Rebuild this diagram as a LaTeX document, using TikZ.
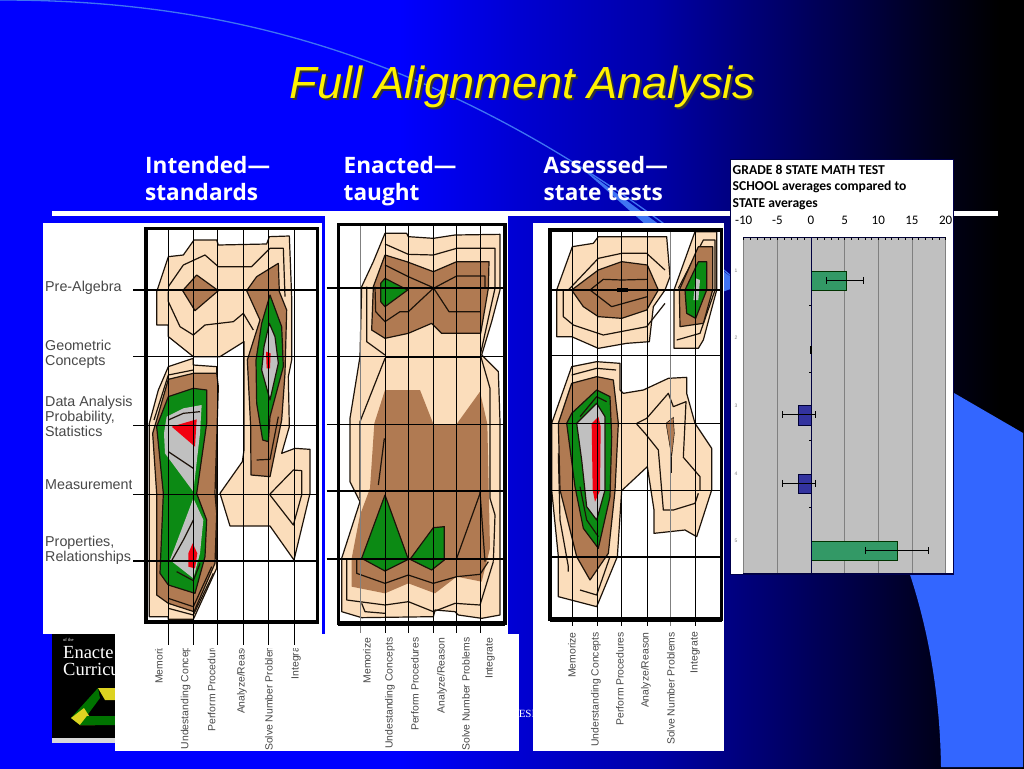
\documentclass[tikz,border=0pt]{standalone}
\usepackage{fontspec}
\setmainfont{Liberation Sans}
\newfontfamily\headfont{Open Sans}
\newfontfamily\chartfont{Carlito}
\newfontfamily\bookfont{Liberation Serif}
\definecolor{peachcol}{HTML}{FBDDBB}
\definecolor{browncol}{HTML}{B07A52}
\definecolor{greencol}{HTML}{0C8A14}
\definecolor{graycol}{HTML}{C0C0C0}
\definecolor{redcol}{HTML}{F20010}
\definecolor{labelcol}{HTML}{484848}
\definecolor{barblue}{HTML}{33339F}
\definecolor{bargreen}{HTML}{339966}
\definecolor{wedgecol}{HTML}{3366FF}
\definecolor{arccol}{HTML}{3F74F2}
\pgfdeclarehorizontalshading{slidebg}{100bp}{rgb(0bp)=(0,0,1); rgb(44.5bp)=(0,0,1); rgb(50.4bp)=(0,0,.82); rgb(56.9bp)=(0,0,.66); rgb(60.6bp)=(0,0,.51); rgb(66.5bp)=(0,0,.28); rgb(70.4bp)=(0,0,.12); rgb(73.8bp)=(0,0,0); rgb(100bp)=(0,0,0)}
\tikzset{
  peachreg/.style={fill=peachcol},
  brownreg/.style={fill=browncol},
  greenreg/.style={fill=greencol},
  grayreg/.style={fill=graycol},
  redreg/.style={fill=redcol},
  contourline/.style={draw=black!85!brown,line width=1.2pt,line join=round},
  gridthin/.style={black,line width=.8pt},
  gridthick/.style={black,line width=1.7pt},
  framebox/.style={black,line width=3.4pt},
  rowlabel/.style={anchor=base west,inner sep=0pt,text=labelcol,font=\fontsize{14.3}{14}\selectfont},
  catlabel/.style={rotate=90,anchor=east,inner sep=0pt,text=labelcol,font=\fontsize{10.4}{11}\selectfont},
  subhead/.style={anchor=north west,inner sep=0pt,text=white,align=left,font=\headfont\bfseries\fontsize{22.6}{27.5}\selectfont},
  axislabel/.style={anchor=base,inner sep=0pt,font=\chartfont\fontsize{13}{13}\selectfont},
  barnum/.style={inner sep=0pt,text=gray,font=\fontsize{5}{5}\selectfont},
  errbar/.style={black,line width=1pt},
}
\begin{document}
\begin{tikzpicture}[x=1pt,y=-1pt]
\useasboundingbox (0,0) rectangle (1024,768);
%
% Background
\path [shading=slidebg] (0,0) rectangle (1024,768);
\fill [wedgecol] (954,393) -- (1023,433) -- (1023,767) -- (941,767)
      .. controls (940,700) and (930,630) .. (905,560) -- cycle;
\draw [arccol,line width=1.3pt] (0,0) .. controls (220,0) and (460,50) .. (742,285);
\fill [arccol] (578,165) -- (742,285) -- (722,292) -- cycle;
%
% Title
\node (titleshadow) at (524.5,89) {\fontsize{45}{50}\selectfont\itshape\textcolor{black!80}{Full Alignment Analysis}};
\node (title) at (522.5,87) {\fontsize{45}{50}\selectfont\itshape\textcolor{yellow}{Full Alignment Analysis}};
\node [subhead] (intended) at (145,156) {Intended—\\standards};
\node [subhead] (enacted) at (343.5,156) {Enacted—\\taught};
\node [subhead] (assessed) at (543.5,156) {Assessed—\\state tests};
\fill [white] (52,211) rectangle (998,215.5);
%
% Book
\fill [black] (52,630) rectangle (115,743);
\fill [black!15] (52,738) rectangle (115,743);
\node [text=white,inner sep=0pt,anchor=base west] (bookof) at (63,641) {\bookfont\fontsize{4.5}{5}\selectfont of the};
\node [text=white,inner sep=0pt,anchor=base west] (bookone) at (63,658) {\bookfont\fontsize{18.5}{20}\selectfont Enacte};
\node [text=white,inner sep=0pt,anchor=base west] (booktwo) at (63,675) {\bookfont\fontsize{18.5}{20}\selectfont Curricu};
\fill [green!45!black] (98,688) -- (71,718) -- (80,725) -- (100,698) -- cycle;
\fill [yellow!85!black] (71,718) -- (80,725) -- (95,725) -- (84,708) -- cycle;
\fill [green!45!black] (80,725) -- (115,725) -- (115,716) -- (87,716) -- cycle;
\fill [yellow!85!black] (98,688) -- (115,688) -- (115,700) -- (105,700) -- cycle;
\node [text=white,inner sep=0pt] (besi) at (527,714) {\bookfont\fontsize{11}{11}\selectfont ESI};
%
% White sheets
\fill [white] (43,223) rectangle (322,634);
\fill [white] (325,215) rectangle (508,634);
\fill [white] (115,634) rectangle (519,751);
\fill [white] (533,223) rectangle (723.5,751);
%
% Intended
\begin{scope}[shift={(40,220)},scale=1/3]
\draw [peachreg,contourline] (350,315) -- (350,215) -- (385,110) -- (430,105) -- (462,60) -- (530,60) -- (535,75) -- (680,72) -- (688,50) -- (748,48) -- (755,230) -- (755,420) -- (745,470) -- (748,620) -- (725,700) -- (765,685) -- (810,688) -- (810,820) -- (762,1020) -- (690,918) -- (570,918) -- (540,820) -- (607,725) -- (612,690) -- (612,365) -- (540,410) -- (460,410) -- (385,350) -- (385,315) -- cycle;
\draw [peachreg,contourline] (460,415) -- (385,440) -- (355,510) -- (328,610) -- (328,1190) -- (385,1190) -- (385,1198) -- (460,1198) -- (530,1045) -- (530,440) -- (460,435) -- cycle;
\draw [contourline] (385,200) -- (430,135) -- (495,105) -- (535,140) -- (635,140) -- (690,85) -- (730,85) -- (735,230);
\draw [contourline] (385,215) -- (385,245) -- (420,320) -- (460,345) -- (495,315) -- (580,305) -- (610,280) -- (640,330);
\draw [contourline] (460,450) -- (385,465) -- (342,600);
\draw [contourline] (690,822) -- (760,750) -- (785,752) -- (785,825) -- (760,915) -- (690,825);
\draw [brownreg,contourline] (428,212) -- (470,165) -- (535,212) -- (465,272) -- cycle;
\draw [brownreg,contourline] (620,212) -- (650,170) -- (715,130) -- (718,215) -- (740,270) -- (735,460) -- (725,600) -- (690,770) -- (633,765) -- (632,620) -- (622,420) -- (660,300) -- cycle;
\draw [brownreg,contourline] (460,460) -- (385,478) -- (350,600) -- (338,640) -- (350,820) -- (350,1125) -- (385,1150) -- (462,1175) -- (525,1030) -- (530,880) -- (525,820) -- (535,500) -- (530,460) -- cycle;
\draw [greenreg,contourline] (690,225) -- (725,320) -- (730,440) -- (690,590) -- (685,665) -- (668,660) -- (650,550) -- (648,420) -- (665,310) -- cycle;
\draw [grayreg,contourline] (688,310) -- (705,350) -- (715,430) -- (690,540) -- (665,450) -- (672,380) -- cycle;
\fill [redreg] (678,395) -- (692,400) -- (690,445) -- (680,445) -- cycle;
\draw [contourline] (650,720) -- (690,718) -- (715,590);
\draw [greenreg,contourline] (460,505) -- (500,510) -- (500,610) -- (470,820) -- (500,900) -- (495,1010) -- (465,1120) -- (385,1095) -- (360,1060) -- (370,820) -- (350,620) -- (385,530) -- cycle;
\fill [grayreg] (380,590) -- (430,565) -- (485,555) -- (480,640) -- (460,815) -- (375,700) -- (372,640) -- cycle;
\fill [grayreg] (460,835) -- (490,900) -- (480,1000) -- (460,1075) -- (390,1020) -- cycle;
\fill [redreg] (395,620) -- (470,598) -- (465,680) -- cycle;
\fill [redreg] (445,1000) -- (458,970) -- (472,1000) -- (465,1045) -- (445,1040) -- cycle;
\draw [contourline] (385,695) -- (460,745);
\draw [contourline] (385,600) -- (430,580) -- (480,575);
\draw [contourline] (395,1022) -- (430,960) -- (460,900);
\draw [contourline] (410,1055) -- (460,1082) -- (480,1030);
\draw [contourline] (385,1135) -- (460,1160) -- (515,1040);
\draw [contourline] (385,1165) -- (460,1185) -- (520,1060);
\foreach \xv in {386,460,533,611,685,763} \draw [gridthin] (\xv,25) -- (\xv,1275);
\foreach \yv in {410,617,822} \draw [gridthin] (280,\yv) -- (832,\yv);
\foreach \yv in {210,1022} \draw [gridthick] (280,\yv) -- (832,\yv);
\draw [framebox] (318,25) rectangle (832,1207);
\draw [line width=4pt] (318,1207) -- (832,1207);
\end{scope}
%
% Enacted
\begin{scope}[shift={(325,215)},scale=1/3]
\draw [peachreg,contourline] (180,55) -- (245,55) -- (250,65) -- (325,70) -- (390,60) -- (525,58) -- (525,225) -- (500,320) -- (470,420) -- (520,470) -- (525,620) -- (525,1040) -- (525,1200) -- (470,1210) -- (400,1200) -- (390,1190) -- (330,1185) -- (325,1205) -- (110,1208) -- (50,1190) -- (50,1030) -- (105,860) -- (75,800) -- (75,610) -- (105,425) -- (110,215) -- (145,140) -- cycle;
\draw [contourline] (180,87) -- (250,118) -- (325,120) -- (395,100) -- (510,100) -- (510,220) -- (490,310) -- (467,415);
\draw [contourline] (125,215) -- (125,380) -- (180,420);
\draw [contourline] (467,423) -- (495,520) -- (495,620) -- (495,850) -- (510,900) -- (505,1040);
\draw [contourline] (180,430) -- (105,620) -- (105,850);
\draw [contourline] (65,1030) -- (65,1155) -- (180,1170) -- (250,1160) -- (325,1190) -- (390,1165) -- (465,1170) -- (505,1040);
\draw [contourline] (110,1165) -- (120,1190) -- (180,1195);
\draw [brownreg,contourline] (180,120) -- (245,140) -- (325,170) -- (395,140) -- (492,140) -- (490,220) -- (467,355) -- (350,355) -- (320,325) -- (250,355) -- (180,370) -- (140,345) -- (145,215) -- cycle;
\fill [brownreg] (180,525) -- (285,525) -- (325,627) -- (395,627) -- (465,530) -- (487,627) -- (495,1000) -- (470,1100) -- (395,1085) -- (330,1135) -- (250,1105) -- (180,1135) -- (80,1115) -- (80,1030) -- (105,900) -- (135,820) -- (148,625) -- cycle;
\draw [greenreg,contourline] (180,190) -- (248,225) -- (180,275) -- (167,260) -- (167,205) -- cycle;
\draw [greenreg,contourline] (180,840) -- (250,1033) -- (180,1068) -- (110,1030) -- cycle;
\draw [greenreg,contourline] (255,1033) -- (325,938) -- (358,935) -- (358,1035) -- (320,1065) -- cycle;
\draw [contourline] (180,150) -- (250,185) -- (325,218) -- (372,290) -- (465,290);
\draw [contourline] (150,215) -- (152,290) -- (180,320) -- (225,290) -- (250,290) -- (325,220) -- (395,183) -- (480,183) -- (480,220);
\draw [contourline] (95,1030) -- (95,1075) -- (180,1105) -- (250,1080) -- (325,1105) -- (395,1085) -- (465,1078) -- (490,1040);
\draw [contourline] (178,670) -- (160,810);
\draw [contourline] (467,830) -- (395,1030);
\draw [contourline] (465,830) -- (480,1040);
\foreach \xv in {180,250,325,395,467} \draw [gridthin] (\xv,28) -- (\xv,1254);
\draw [gridthin,gray] (106,28) -- (106,1254);
\foreach \yv in {423,627} \draw [gridthin] (5,\yv) -- (540,\yv);
\foreach \yv in {220,828,1033} \draw [gridthick] (5,\yv) -- (540,\yv);
\draw [gridthick] (180,425) -- (467,425);
\draw [framebox] (40,28) rectangle (540,1225);
\draw [line width=4.5pt] (40,1225) -- (540,1225);
\end{scope}
%
% Assessed
\begin{scope}[shift={(530,220)},scale=1/3]
\draw [peachreg,contourline] (80,210) -- (127,80) -- (190,70) -- (205,50) -- (410,50) -- (420,170) -- (405,210) -- (370,260) -- (358,365) -- (290,370) -- (205,385) -- (125,350) -- (80,350) -- cycle;
\draw [contourline] (100,210) -- (100,290) -- (130,315) -- (220,345) -- (350,320) -- (405,250);
\draw [contourline] (115,210) -- (205,115) -- (275,100) -- (350,100) -- (405,150);
\draw [brownreg,contourline] (125,210) -- (205,150) -- (275,125) -- (352,135) -- (385,210) -- (350,270) -- (275,295) -- (205,290) -- (160,260) -- cycle;
\draw [contourline] (180,210) -- (220,178) -- (275,180) -- (352,178);
\draw [contourline] (180,210) -- (245,260) -- (352,230);
\fill [black] (262,205) rectangle (295,217);
\draw [peachreg,contourline] (495,35) -- (560,35) -- (560,210) -- (520,360) -- (505,385) -- (432,385) -- (432,210) -- cycle;
\draw [contourline] (445,205) -- (520,60) -- (555,60) -- (555,210) -- (510,340) -- (440,360);
\draw [brownreg,contourline] (505,80) -- (548,80) -- (548,210) -- (520,310) -- (450,320) -- (448,210) -- cycle;
\draw [greenreg,contourline] (505,125) -- (530,125) -- (530,210) -- (497,295) -- (470,280) -- (465,210) -- cycle;
\fill [graycol] (497,175) -- (510,180) -- (505,240) -- (490,240) -- cycle;
\draw [peachreg,contourline] (125,440) -- (200,425) -- (270,430) -- (270,510) -- (280,520) -- (340,510) -- (415,475) -- (470,472) -- (470,520) -- (495,610) -- (545,685) -- (545,810) -- (500,950) -- (465,930) -- (372,940) -- (372,870) -- (352,740) -- (275,812) -- (262,1010) -- (200,1160) -- (85,1130) -- (85,1010) -- (65,810) -- (65,610) -- cycle;
\draw [contourline] (320,610) -- (350,595) -- (415,520) -- (430,560) -- (468,545) -- (460,712) -- (510,770) -- (510,812);
\draw [contourline] (320,612) -- (345,640) -- (385,690) -- (400,870) -- (430,870) -- (495,850) -- (505,820);
\draw [contourline] (85,700) -- (90,900) -- (115,1040) -- (115,1055);
\draw [contourline] (240,1010) -- (200,1125) -- (150,1110);
\draw [contourline] (125,465) -- (200,445) -- (258,450);
\draw [brownreg,contourline] (125,490) -- (200,470) -- (250,480) -- (265,610) -- (255,812) -- (235,1000) -- (180,1080) -- (140,1010) -- (90,810) -- (85,610) -- cycle;
\draw [greenreg,contourline] (125,580) -- (200,510) -- (240,530) -- (245,650) -- (240,830) -- (205,985) -- (160,925) -- (135,800) -- (110,610) -- cycle;
\draw [contourline] (150,590) -- (200,530) -- (230,545);
\draw [contourline] (150,800) -- (170,900) -- (205,950);
\draw [grayreg,contourline] (140,610) -- (200,550) -- (225,590) -- (225,810) -- (200,900) -- (170,860) -- (155,720) -- cycle;
\fill [redreg] (185,610) -- (205,590) -- (212,620) -- (210,812) -- (195,845) -- (188,810) -- cycle;
\fill [browncol,draw=black] (408,610) -- (430,592) -- (433,640) -- (425,710) -- cycle;
\draw [contourline] (425,710) -- (425,760);
\foreach \xv in {127,201,274,352,496} \draw [gridthin] (\xv,30) -- (\xv,1218);
\draw [gridthin,gray] (422,30) -- (422,1218);
\foreach \yv in {407,610,812} \draw [gridthin] (60,\yv) -- (575,\yv);
\foreach \yv in {210,1010} \draw [gridthick] (60,\yv) -- (575,\yv);
\draw [framebox] (60,30) rectangle (575,1198);
\draw [line width=4.5pt] (60,1198) -- (575,1198);
\end{scope}
%
% Row names
\begin{scope}
\clip (43,223) rectangle (131,634);
\node [rowlabel] (prealg) at (45,291) {Pre-Algebra};
\node [rowlabel] (geomone) at (45,350) {Geometric};
\node [rowlabel] (geomtwo) at (45,365) {Concepts};
\node [rowlabel] (dataone) at (45,406) {Data Analysis};
\node [rowlabel] (datatwo) at (45,421) {Probability,};
\node [rowlabel] (datathree) at (45,436) {Statistics};
\node [rowlabel] (measure) at (45,489) {Measurement};
\node [rowlabel] (propone) at (45,546) {Properties,};
\node [rowlabel] (proptwo) at (45,561) {Relationships};
\end{scope}
%
% Category names
\begin{scope}
\clip (115,648) rectangle (323,751);
\foreach \xv/\tv [count=\i] in {159/Memorize,185.7/Undestanding Concepts,211.7/Perform Procedures,242/{Analyze/Reason},269/Solve Number Problems,296/Integrate}
  \node [catlabel] (catA\i) at (\xv,638) {\tv};
\end{scope}
\foreach \xv/\tv [count=\i] in {367/Memorize,390/Undestanding Concepts,415/Perform Procedures,442/{Analyze/Reason},466/Solve Number Problems,490/Integrate}
  \node [catlabel] (catB\i) at (\xv,637.5) {\tv};
\foreach \xv/\tv [count=\i] in {572/Memorize,596/Understanding Concepts,620/Perform Procedures,646/{Analyze/Reason},671/Solve Number Problems,695/Integrate}
  \node [catlabel] (catC\i) at (\xv,632) {\tv};
%
% Chart
\fill [black!70!blue] (729.5,158.5) rectangle (954,575);
\fill [white] (731,160) rectangle (953,573.5);
\fill [graycol] (743.3,237) rectangle (945,573.5);
\node [inner sep=0pt,anchor=base west] (charta) at (732.5,174) {\chartfont\bfseries\fontsize{13.6}{14}\selectfont GRADE 8 STATE MATH TEST};
\node [inner sep=0pt,anchor=base west] (chartb) at (732.5,190.5) {\chartfont\bfseries\fontsize{13.6}{14}\selectfont SCHOOL averages compared to};
\node [inner sep=0pt,anchor=base west] (chartc) at (732.5,207) {\chartfont\bfseries\fontsize{13.6}{14}\selectfont STATE averages};
\foreach \v in {-10,-5,0,5,10,15,20} \node [axislabel] (ax\v) at ({811+6.73*\v},224.5) {\v};
\foreach \v in {-10,-5,5,10,15,20} \draw [gray,line width=.9pt] ({811+6.73*\v},237) -- ({811+6.73*\v},573.5);
\foreach \v in {-10,...,20} \draw [black,line width=.6pt] ({811+6.73*\v},237) -- ({811+6.73*\v},240);
\draw [black!80!blue,line width=.9pt] (743.3,237.5) -- (945,237.5);
\foreach \y in {305,372.3,440.7,507.7} \draw [black,line width=.8pt] (809,\y) -- (811,\y);
\draw [draw=black!80!green,line width=.9pt,fill=bargreen] (811,271) rectangle (846.7,290);
\draw [draw=black!80!blue,line width=.9pt,fill=barblue] (798.3,405) rectangle (811.7,425.7);
\draw [draw=black!80!blue,line width=.9pt,fill=barblue] (798.3,474) rectangle (811.7,493);
\draw [draw=black!80!green,line width=.9pt,fill=bargreen] (811,541.7) rectangle (897.7,560);
\draw [black!75!blue,line width=1pt] (811,237) -- (811,575);
\draw [black!75!blue,line width=1pt] (743,573.5) -- (953,573.5);
\draw [black,line width=1.4pt] (811,346) -- (811,354);
\foreach \a/\b/\y in {826.7/863.7/280.3,782.3/815.3/414.7,782.3/815.3/483.3,865.3/928.3/550.7}
  \draw [errbar] (\a,\y-3.5) -- (\a,\y+3.5) (\a,\y) -- (\b,\y) (\b,\y-3.5) -- (\b,\y+3.5);
\foreach \n/\y in {1/270.7,2/338,3/406,4/474,5/541} \node [barnum] (num\n) at (736,\y) {\n};
%
\end{tikzpicture}
\end{document}
